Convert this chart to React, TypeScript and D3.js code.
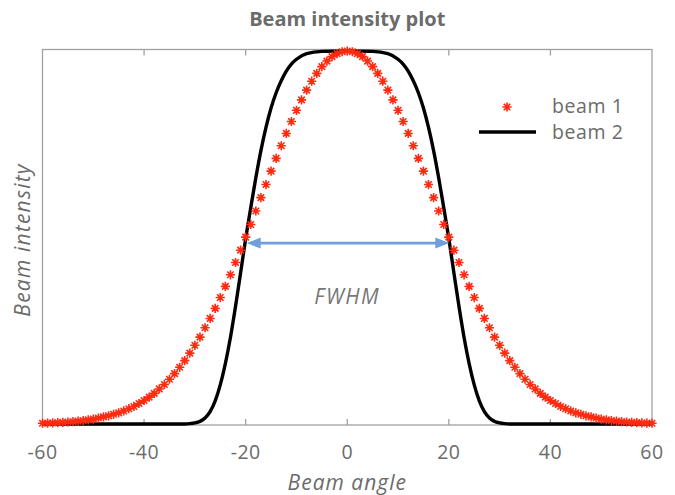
import React from "react";
import * as d3 from "d3";

// ---- data ----
const beam1Angles = [
  -60, -59, -58, -57, -56, -55, -54, -53, -52, -51, -50, -49, -48, -47, -46, -45, -44, -43, -42, -41,
  -40, -39, -38, -37, -36, -35, -34, -33, -32, -31, -30, -29, -28, -27, -26, -25, -24, -23, -22, -21,
  -20, -19, -18, -17, -16, -15, -14, -13, -12, -11, -10, -9, -8, -7, -6, -5, -4, -3, -2, -1,
  0, 1, 2, 3, 4, 5, 6, 7, 8, 9, 10, 11, 12, 13, 14, 15, 16, 17, 18, 19,
  20, 21, 22, 23, 24, 25, 26, 27, 28, 29, 30, 31, 32, 33, 34, 35, 36, 37, 38, 39,
  40, 41, 42, 43, 44, 45, 46, 47, 48, 49, 50, 51, 52, 53, 54, 55, 56, 57, 58, 59, 60,
];
const beam1Values = [
  0.002, 0.0024, 0.003, 0.0036, 0.0044, 0.0053, 0.0064, 0.0077, 0.0093, 0.011, 0.013, 0.016, 0.019, 0.022, 0.026, 0.03, 0.035, 0.041, 0.047, 0.055,
  0.063, 0.072, 0.082, 0.094, 0.106, 0.12, 0.135, 0.152, 0.17, 0.19, 0.211, 0.233, 0.258, 0.283, 0.31, 0.339, 0.369, 0.4, 0.433, 0.466,
  0.501, 0.535, 0.571, 0.607, 0.642, 0.678, 0.712, 0.746, 0.779, 0.811, 0.841, 0.869, 0.895, 0.919, 0.94, 0.958, 0.973, 0.985, 0.993, 0.998,
  1.0, 0.998, 0.993, 0.985, 0.973, 0.958, 0.94, 0.919, 0.895, 0.869, 0.841, 0.811, 0.779, 0.746, 0.712, 0.678, 0.642, 0.607, 0.571, 0.535,
  0.501, 0.466, 0.433, 0.4, 0.369, 0.339, 0.31, 0.283, 0.258, 0.233, 0.211, 0.19, 0.17, 0.152, 0.135, 0.12, 0.106, 0.094, 0.082, 0.072,
  0.063, 0.055, 0.047, 0.041, 0.035, 0.03, 0.026, 0.022, 0.019, 0.016, 0.013, 0.011, 0.0093, 0.0077, 0.0064, 0.0053, 0.0044, 0.0036, 0.003, 0.0024, 0.002,
];

const beam2Angles = [
  -60, -50, -40, -35, -32, -31, -30, -29, -28, -27, -26, -25, -24, -23, -22, -21, -20, -19, -18, -17, -16, -15, -14, -13, -12, -11, -10, -8, -5,
  0,
  5, 8, 10, 11, 12, 13, 14, 15, 16, 17, 18, 19, 20, 21, 22, 23, 24, 25, 26, 27, 28, 29, 30, 31, 32, 35, 40, 50, 60,
];
const beam2Values = [
  0, 0, 0, 0, 0, 0.001, 0.003, 0.007, 0.016, 0.033, 0.062, 0.105, 0.162, 0.232, 0.315, 0.405, 0.497, 0.58, 0.66, 0.733, 0.795, 0.847, 0.888, 0.92, 0.946, 0.965, 0.978, 0.993, 0.999,
  1.0,
  0.999, 0.993, 0.978, 0.965, 0.946, 0.92, 0.888, 0.847, 0.795, 0.733, 0.66, 0.58, 0.497, 0.405, 0.315, 0.232, 0.162, 0.105, 0.062, 0.033, 0.016, 0.007, 0.003, 0.001, 0, 0, 0, 0, 0,
];

const xTicks = [-60, -40, -20, 0, 20, 40, 60];
const xDomain = [-60, 60];
const yDomain = [0, 1];
const fwhmSpan = [-19.8, 20.1];
const fwhmLevel = 0.485;
const seriesNames = ["beam 1", "beam 2"];
const titleText = "Beam intensity plot";
const xLabel = "Beam angle";
const yLabel = "Beam intensity";
const fwhmLabel = "FWHM";

// ---- styling ----
const W = 675;
const H = 495;
const plot = { left: 42.5, right: 652, top: 51, bottom: 424 };
const frameTop = 49.5;
const frameBottom = 425;
const red = "#ff2a0f";
const textGray = "#6b6b6b";
const axisGray = "#a0a0a0";
const arrowBlue = "#6f9fdc";
const font = "'Open Sans', 'Noto Sans', sans-serif";

function asteriskPath(cx: number, cy: number, r: number) {
  const d = r * Math.SQRT1_2;
  return (
    `M${cx - r},${cy}L${cx + r},${cy}` +
    `M${cx},${cy - r}L${cx},${cy + r}` +
    `M${cx - d},${cy - d}L${cx + d},${cy + d}` +
    `M${cx - d},${cy + d}L${cx + d},${cy - d}`
  );
}

export default function App() {
  const x = d3.scaleLinear().domain(xDomain).range([plot.left, plot.right]);
  const y = d3.scaleLinear().domain(yDomain).range([plot.bottom, plot.top]);

  const beam2Pts: [number, number][] = beam2Angles.map((a, i) => [a, beam2Values[i]]);
  const line = d3
    .line<[number, number]>()
    .x((d) => x(d[0]))
    .y((d) => y(d[1]))
    .curve(d3.curveMonotoneX);

  const markers = beam1Angles
    .map((a, i) => asteriskPath(x(a), y(beam1Values[i]), 4.6))
    .join("");

  const ay = y(fwhmLevel);
  const ax0 = x(fwhmSpan[0]);
  const ax1 = x(fwhmSpan[1]);
  const headL = 14;
  const headW = 5.5;

  const cx = (plot.left + plot.right) / 2;

  return (
    <svg
      width={W}
      height={H}
      style={{ position: "absolute", left: 0, top: 0, background: "#fff" }}
      fontFamily={font}
    >
      <rect x={0} y={0} width={W} height={H} fill="#fff" />

      {/* frame */}
      <rect
        x={plot.left}
        y={frameTop}
        width={plot.right - plot.left}
        height={frameBottom - frameTop}
        fill="none"
        stroke={axisGray}
        strokeWidth={1.3}
      />
      {xTicks.slice(1, -1).map((t) => (
        <g key={t}>
          <line x1={x(t)} x2={x(t)} y1={frameBottom} y2={frameBottom - 6} stroke={axisGray} strokeWidth={1.3} />
          <line x1={x(t)} x2={x(t)} y1={frameTop} y2={frameTop + 6} stroke={axisGray} strokeWidth={1.3} />
        </g>
      ))}

      {/* beam 2 line */}
      <path d={line(beam2Pts) || ""} fill="none" stroke="#000" strokeWidth={3.4} strokeLinejoin="round" />

      {/* beam 1 markers */}
      <path d={markers} fill="none" stroke={red} strokeWidth={1.6} />

      {/* FWHM arrow */}
      <line x1={ax0 + headL - 2} x2={ax1 - headL + 2} y1={ay} y2={ay} stroke={arrowBlue} strokeWidth={2.6} />
      <path d={`M${ax0},${ay}L${ax0 + headL},${ay - headW}L${ax0 + headL},${ay + headW}Z`} fill={arrowBlue} />
      <path d={`M${ax1},${ay}L${ax1 - headL},${ay - headW}L${ax1 - headL},${ay + headW}Z`} fill={arrowBlue} />
      <text x={x(0)} y={304} textAnchor="middle" fontSize={21} letterSpacing={1.5} fontStyle="italic" fill="#777">
        {fwhmLabel}
      </text>

      {/* tick labels */}
      {xTicks.map((t) => (
        <text key={t} x={x(t)} y={459} textAnchor="middle" fontSize={19.5} letterSpacing={0.5} fill={textGray}>
          {String(t)}
        </text>
      ))}

      {/* title and axis labels */}
      <text x={cx} y={26} textAnchor="middle" fontSize={20} fontWeight={700} fill={textGray}>
        {titleText}
      </text>
      <text x={cx} y={490} textAnchor="middle" fontSize={21} letterSpacing={1} fontStyle="italic" fill={textGray}>
        {xLabel}
      </text>
      <text
        transform={`translate(30,240) rotate(-90)`}
        textAnchor="middle"
        fontSize={21}
        letterSpacing={1.2}
        fontStyle="italic"
        fill={textGray}
      >
        {yLabel}
      </text>

      {/* legend */}
      <path d={asteriskPath(507, 107, 4.6)} fill="none" stroke={red} strokeWidth={1.7} />
      <text x={552} y={113} fontSize={19.5} letterSpacing={0.6} fill={textGray}>
        {seriesNames[0]}
      </text>
      <line x1={479} x2={536} y1={132} y2={132} stroke="#000" strokeWidth={3.4} />
      <text x={552} y={139} fontSize={19.5} letterSpacing={0.6} fill={textGray}>
        {seriesNames[1]}
      </text>
    </svg>
  );
}
